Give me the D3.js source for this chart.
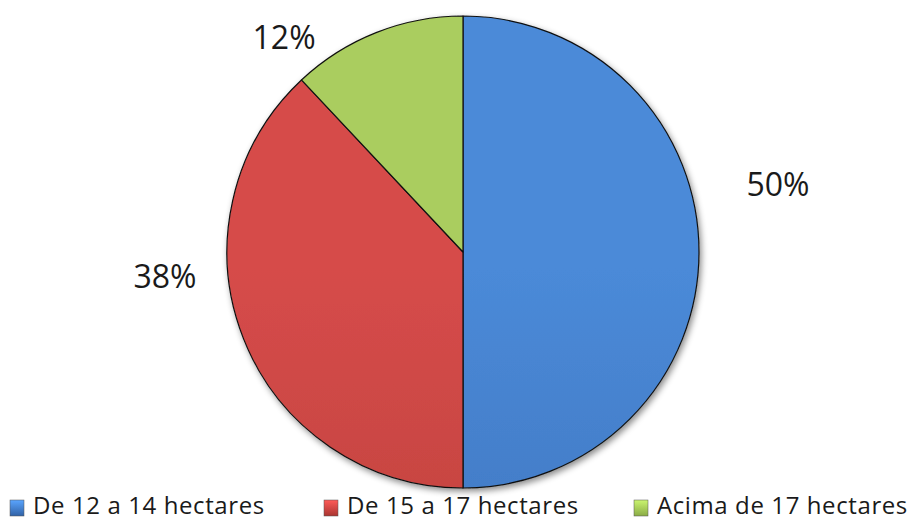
<!DOCTYPE html>
<html>
<head>
<meta charset="utf-8">
<script src="https://cdn.jsdelivr.net/npm/d3@7"></script>
<style>
  html, body { margin: 0; padding: 0; background: #fff; }
  svg { display: block; }
</style>
</head>
<body>
<div id="main"></div>
<script>
// data
const categories = ["De 12 a 14 hectares", "De 15 a 17 hectares", "Acima de 17 hectares"];
const values = [50, 38, 12];
const labels = ["50%", "38%", "12%"];

// colours: [top, bottom] of each slice gradient
const colors = [["#4b8ad8", "#3162a6"], ["#d64c4a", "#a93531"], ["#aacd5e", "#8aab46"]];

const ctx = {
    w: 920,
    h: 522,
    cx: 463,
    cy: 252,
    r: 236,
    // label spots in polar coords around the pie centre (angle from top, radius)
    labelPos: [[1.361, 322], [4.632, 299], [5.587, 279]],
    legendX: [10, 324, 634],
    legendY: 514,
};

const svg = d3.select("#main").append("svg")
    .attr("width", ctx.w)
    .attr("height", ctx.h);

const defs = svg.append("defs");

const shadow = defs.append("filter").attr("id", "shadow")
    .attr("x", "-10%").attr("y", "-10%").attr("width", "120%").attr("height", "120%");
shadow.append("feDropShadow")
    .attr("dx", 2).attr("dy", 3).attr("stdDeviation", 3)
    .attr("flood-color", "#000").attr("flood-opacity", 0.45);

colors.forEach((c, i) => {
    const g = defs.append("linearGradient")
        .attr("id", "grad" + i)
        .attr("gradientUnits", "userSpaceOnUse")
        .attr("x1", 0).attr("y1", ctx.cy - ctx.r)
        .attr("x2", 0).attr("y2", ctx.cy + ctx.r);
    g.append("stop").attr("offset", "0%").attr("stop-color", c[0]);
    g.append("stop").attr("offset", "55%").attr("stop-color", d3.interpolateRgb(c[0], c[1])(0.35));
    g.append("stop").attr("offset", "100%").attr("stop-color", c[1]);

    const k = defs.append("linearGradient")
        .attr("id", "key" + i)
        .attr("x1", 0).attr("y1", 0).attr("x2", 0).attr("y2", 1);
    k.append("stop").attr("offset", "0%").attr("stop-color", d3.color(c[0]).brighter(0.5));
    k.append("stop").attr("offset", "100%").attr("stop-color", c[1]);
});

const pie = d3.pie().sort(null).value(d => d);
const arcs = pie(values);
const arc = d3.arc().innerRadius(0).outerRadius(ctx.r);

const g = svg.append("g").attr("transform", `translate(${ctx.cx},${ctx.cy})`);

g.append("g").attr("filter", "url(#shadow)")
    .selectAll("path")
    .data(arcs)
    .join("path")
    .attr("d", arc)
    .attr("fill", (d, i) => `url(#grad${i})`)
    .attr("stroke", "#111")
    .attr("stroke-width", 1.2)
    .attr("stroke-linejoin", "round");

// percentage labels
g.selectAll("text.pct")
    .data(arcs)
    .join("text")
    .attr("class", "pct")
    .attr("transform", (d, i) => {
        const p = d3.pointRadial(ctx.labelPos[i][0], ctx.labelPos[i][1]);
        return `translate(${p[0]},${p[1]})`;
    })
    .attr("text-anchor", "middle")
    .attr("dy", "0.36em")
    .style("font-family", "'Open Sans', sans-serif")
    .style("font-size", "32px")
    .style("fill", "#1a1a1a")
    .text((d, i) => labels[i]);

// legend
const legend = svg.append("g");
const item = legend.selectAll("g")
    .data(categories)
    .join("g")
    .attr("transform", (d, i) => `translate(${ctx.legendX[i]},${ctx.legendY})`);

item.append("rect")
    .attr("x", 0).attr("y", -14)
    .attr("width", 14).attr("height", 16)
    .attr("fill", (d, i) => `url(#key${i})`)
    .attr("stroke", "#555")
    .attr("stroke-width", 0.5);

item.append("text")
    .attr("x", 23)
    .attr("y", 0)
    .style("font-family", "'Open Sans', sans-serif")
    .style("font-size", "24px")
    .style("letter-spacing", "0.6px")
    .style("fill", "#1a1a1a")
    .text(d => d);
</script>
</body>
</html>
